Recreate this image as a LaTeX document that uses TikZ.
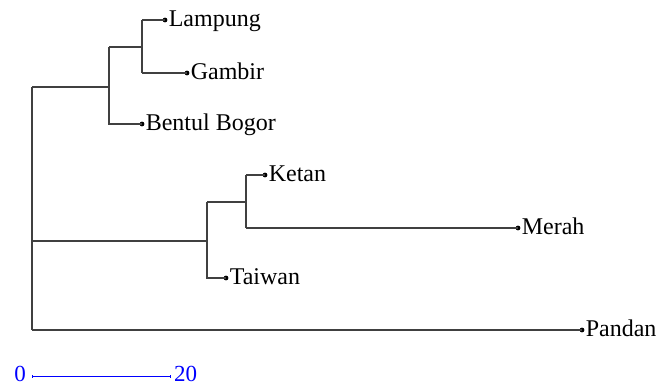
\documentclass[tikz,border=0pt]{standalone}
\usepackage{fontspec}
\setmainfont{Liberation Serif}
\begin{document}
\begin{tikzpicture}[x=1pt,y=-1pt,
  branch/.style={draw=black!75,line width=1.1pt},
  leafdot/.style={circle,fill=black,inner sep=0pt,minimum size=4.8pt},
  leaflabel/.style={anchor=base west,inner xsep=1pt,inner ysep=0pt,yshift=-6.5pt,font=\fontsize{24}{28}\selectfont},
  scalelabel/.style={text=blue,font=\fontsize{23}{27}\selectfont,inner sep=0pt}]
\useasboundingbox (0,0) rectangle (658,385);
% internal nodes
\coordinate (root) at (32,241);
\coordinate (rootT) at (32,87);
\coordinate (rootB) at (32,330);
\coordinate (c1) at (109,87);
\coordinate (c2) at (142,47);
\coordinate (c3) at (207,241);
\coordinate (c4) at (246,202);
% leaves
\node[leafdot] (lampung) at (165,20) {};
\node[leafdot] (gambir) at (187,73) {};
\node[leafdot] (bentul) at (142,124) {};
\node[leafdot] (ketan) at (265,175) {};
\node[leafdot] (merah) at (518,228) {};
\node[leafdot] (taiwan) at (226,278) {};
\node[leafdot] (pandan) at (582,330) {};
\node[leaflabel] (lLampung) at (lampung.east) {Lampung};
\node[leaflabel] (lGambir) at (gambir.east) {Gambir};
\node[leaflabel] (lBentul) at (bentul.east) {Bentul Bogor};
\node[leaflabel] (lKetan) at (ketan.east) {Ketan};
\node[leaflabel] (lMerah) at (merah.east) {Merah};
\node[leaflabel] (lTaiwan) at (taiwan.east) {Taiwan};
\node[leaflabel] (lPandan) at (pandan.east) {Pandan};
% branches
\draw[branch] (rootT) -- (rootB);
\draw[branch] (rootT) -- (c1);
\draw[branch] (root) -- (c3);
\draw[branch] (rootB) -- (pandan.center);
\draw[branch] (c1 |- c2) -- (c1 |- bentul) -- (bentul.center);
\draw[branch] (c1 |- c2) -- (c2);
\draw[branch] (c2 |- lampung) -- (c2 |- gambir);
\draw[branch] (c2 |- lampung) -- (lampung.center);
\draw[branch] (c2 |- gambir) -- (gambir.center);
\draw[branch] (c3 |- c4) -- (c3 |- taiwan) -- (taiwan.center);
\draw[branch] (c3 |- c4) -- (c4);
\draw[branch] (c4 |- ketan) -- (c4 |- merah);
\draw[branch] (c4 |- ketan) -- (ketan.center);
\draw[branch] (c4 |- merah) -- (merah.center);
% scale bar
\coordinate (s0) at (32,376);
\coordinate (s1) at (170,376);
\draw[blue,line width=0.9pt] (s0) -- (s1);
\draw[blue,line width=0.9pt] ([yshift=-1.5pt]s0) -- ([yshift=1.5pt]s0);
\draw[blue,line width=0.9pt] ([yshift=-1.5pt]s1) -- ([yshift=1.5pt]s1);
\node[scalelabel,anchor=base east] (zero) at ([xshift=-6pt,yshift=-5pt]s0) {0};
\node[scalelabel,anchor=base west] (twenty) at ([xshift=4pt,yshift=-5pt]s1) {20};
\end{tikzpicture}
\end{document}
